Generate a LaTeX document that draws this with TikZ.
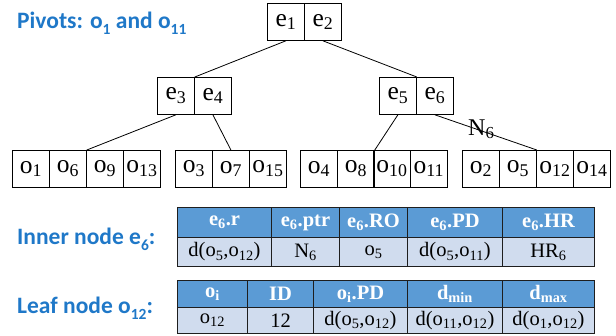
\documentclass[tikz,border=0pt]{standalone}
\usepackage{fontspec}
\setmainfont{Liberation Serif}
\newfontfamily\calibri{Carlito}
\definecolor{hdrblue}{HTML}{5B9BD5}
\definecolor{bodyblue}{HTML}{D0DCEE}
\definecolor{lblblue}{HTML}{1F78C8}
\definecolor{bordc}{HTML}{1E1E1E}
\newcommand\sbs[1]{\textsubscript{#1}}
\newcommand\lsb[1]{\raisebox{-0.26em}{\fontsize{15.5}{15.5}\selectfont\bfseries #1}}
\begin{document}
\begin{tikzpicture}[x=1pt,y=-1pt,
  cell/.style={draw=black, line width=0.8pt, minimum width=37pt, minimum height=37pt, inner sep=0pt, anchor=north west, font=\fontsize{25.5}{25.5}\selectfont},
  link/.style={draw=black, line width=0.8pt},
  lbl/.style={anchor=base west, inner sep=0pt, text=lblblue, font=\calibri\bfseries\fontsize{23.5}{23.5}\selectfont},
  hdr/.style={draw=bordc, line width=1pt, fill=hdrblue, inner sep=0pt, anchor=north west, text=white, font=\bfseries\fontsize{20.5}{20.5}\selectfont},
  bdy/.style={draw=bordc, line width=1pt, fill=bodyblue, inner sep=0pt, anchor=north west, text=black, font=\fontsize{20.5}{20.5}\selectfont}
]
\useasboundingbox (0,0) rectangle (616,335);

% labels
\node[lbl] (piv) at (17,28) {Pivots: o\lsb{1} and o\lsb{11}};
\node[lbl] (inl) at (17,244) {Inner node e\lsb{6}:};
\node[lbl] (lfl) at (17,313) {Leaf node o\lsb{12}:};

% tree inner nodes
\node[cell] (e1) at (267,3) {e\sbs{1}};
\node[cell] (e2) at (304,3) {e\sbs{2}};
\node[cell] (e3) at (157,77) {e\sbs{3}};
\node[cell] (e4) at (194,77) {e\sbs{4}};
\node[cell] (e5) at (379,77) {e\sbs{5}};
\node[cell] (e6) at (416,77) {e\sbs{6}};

% leaves
\node[cell] (o1) at (12,150) {o\sbs{1}};
\node[cell] (o6) at (49,150) {o\sbs{6}};
\node[cell] (o9) at (86,150) {o\sbs{9}};
\node[cell] (o13) at (123,150) {o\sbs{13}};

\node[cell] (o3) at (175,150) {o\sbs{3}};
\node[cell] (o7) at (212,150) {o\sbs{7}};
\node[cell] (o15) at (249,150) {o\sbs{15}};

\node[cell] (o4) at (300,150) {o\sbs{4}};
\node[cell] (o8) at (337,150) {o\sbs{8}};
\node[cell] (o10) at (373,150) {o\sbs{10}};
\node[cell] (o11) at (410,150) {o\sbs{11}};

\node[cell] (o2) at (462,150) {o\sbs{2}};
\node[cell] (o5) at (499,150) {o\sbs{5}};
\node[cell] (o12) at (536,150) {o\sbs{12}};
\node[cell] (o14) at (573,150) {o\sbs{14}};

% links
\draw[link] (e1.south) -- (e3.north east);
\draw[link] (e2.south) -- (e5.north east);
\draw[link] (e3.south) -- (o6.north east);
\draw[link] (e4.south) -- (o7.north);
\draw[link] (e5.south) -- (o8.north east);
\draw[link] (e6.south) -- (o5.north east);
\node[anchor=base west, inner sep=0pt, font=\fontsize{24}{24}\selectfont] (n6) at (468,135) {N\sbs{6}};

% inner node table
\node[hdr, minimum width=94pt, minimum height=30pt] (ih1) at (177,207) {e\sbs{6}.r};
\node[hdr, minimum width=68pt, minimum height=30pt] (ih2) at (271,207) {e\sbs{6}.ptr};
\node[hdr, minimum width=68pt, minimum height=30pt] (ih3) at (339,207) {e\sbs{6}.RO};
\node[hdr, minimum width=95pt, minimum height=30pt] (ih4) at (407,207) {e\sbs{6}.PD};
\node[hdr, minimum width=92pt, minimum height=30pt] (ih5) at (502,207) {e\sbs{6}.HR};
\node[bdy, minimum width=94pt, minimum height=29pt] (ib1) at (177,237) {d(o\sbs{5},o\sbs{12})};
\node[bdy, minimum width=68pt, minimum height=29pt] (ib2) at (271,237) {N\sbs{6}};
\node[bdy, minimum width=68pt, minimum height=29pt] (ib3) at (339,237) {o\sbs{5}};
\node[bdy, minimum width=95pt, minimum height=29pt] (ib4) at (407,237) {d(o\sbs{5},o\sbs{11})};
\node[bdy, minimum width=92pt, minimum height=29pt] (ib5) at (502,237) {HR\sbs{6}};

% leaf node table
\node[hdr, minimum width=70pt, minimum height=27pt] (lh1) at (177,280) {o\sbs{i}};
\node[hdr, minimum width=66pt, minimum height=27pt] (lh2) at (247,280) {ID};
\node[hdr, minimum width=94pt, minimum height=27pt] (lh3) at (313,280) {o\sbs{i}.PD};
\node[hdr, minimum width=95pt, minimum height=27pt] (lh4) at (407,280) {d\sbs{min}};
\node[hdr, minimum width=92pt, minimum height=27pt] (lh5) at (502,280) {d\sbs{max}};
\node[bdy, minimum width=70pt, minimum height=26pt] (lb1) at (177,307) {o\sbs{12}};
\node[bdy, minimum width=66pt, minimum height=26pt] (lb2) at (247,307) {12};
\node[bdy, minimum width=94pt, minimum height=26pt] (lb3) at (313,307) {d(o\sbs{5},o\sbs{12})};
\node[bdy, minimum width=95pt, minimum height=26pt] (lb4) at (407,307) {d(o\sbs{11},o\sbs{12})};
\node[bdy, minimum width=92pt, minimum height=26pt] (lb5) at (502,307) {d(o\sbs{1},o\sbs{12})};
\end{tikzpicture}
\end{document}
